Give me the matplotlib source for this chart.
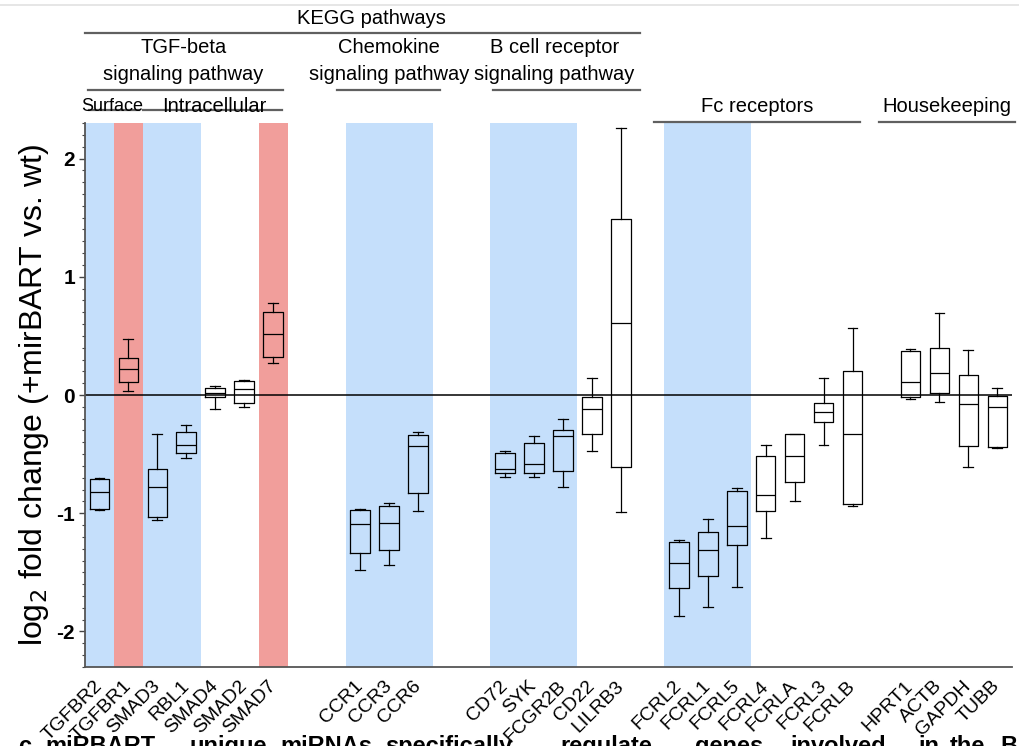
import matplotlib
matplotlib.use("Agg")
import matplotlib.pyplot as plt
import matplotlib.transforms as mtransforms
from matplotlib.lines import Line2D
from matplotlib.ticker import MultipleLocator

plt.rcParams['font.family'] = ['Liberation Sans', 'DejaVu Sans']

# genes and their slot on the x axis (gaps separate the gene groups)
genes = ["TGFBR2", "TGFBR1", "SMAD3", "RBL1", "SMAD4", "SMAD2", "SMAD7",
         "CCR1", "CCR3", "CCR6",
         "CD72", "SYK", "FCGR2B", "CD22", "LILRB3",
         "FCRL2", "FCRL1", "FCRL5", "FCRL4", "FCRLA", "FCRL3", "FCRLB",
         "HPRT1", "ACTB", "GAPDH", "TUBB"]
slots = [0, 1, 2, 3, 4, 5, 6,
         9, 10, 11,
         14, 15, 16, 17, 18,
         20, 21, 22, 23, 24, 25, 26,
         28, 29, 30, 31]

# log2 fold change summary per gene
whisker_lo = [-0.97, 0.03, -1.06, -0.53, -0.12, -0.10, 0.27,
              -1.48, -1.44, -0.98,
              -0.69, -0.69, -0.78, -0.47, -0.99,
              -1.87, -1.79, -1.62, -1.21, -0.90, -0.42, -0.94,
              -0.03, -0.06, -0.61, -0.45]
quart_1 = [-0.96, 0.11, -1.03, -0.49, -0.02, -0.07, 0.32,
           -1.34, -1.31, -0.83,
           -0.66, -0.66, -0.64, -0.33, -0.61,
           -1.63, -1.53, -1.27, -0.98, -0.74, -0.23, -0.92,
           -0.02, 0.02, -0.43, -0.44]
medians = [-0.82, 0.22, -0.78, -0.42, 0.02, 0.05, 0.52,
           -1.09, -1.08, -0.43,
           -0.63, -0.58, -0.35, -0.12, 0.61,
           -1.42, -1.31, -1.11, -0.85, -0.52, -0.14, -0.33,
           0.11, 0.19, -0.08, -0.10]
quart_3 = [-0.71, 0.31, -0.63, -0.31, 0.06, 0.12, 0.70,
           -0.97, -0.94, -0.34,
           -0.49, -0.41, -0.30, -0.02, 1.49,
           -1.24, -1.16, -0.81, -0.52, -0.33, -0.07, 0.20,
           0.37, 0.40, 0.17, -0.01]
whisker_hi = [-0.70, 0.47, -0.33, -0.25, 0.08, 0.13, 0.78,
              -0.96, -0.91, -0.31,
              -0.47, -0.35, -0.20, 0.14, 2.26,
              -1.23, -1.05, -0.79, -0.42, -0.33, 0.14, 0.57,
              0.39, 0.69, 0.38, 0.06]

# shaded columns: (first slot, last slot, colour)
BLUE = "#c5dffb"
RED = "#f19e9b"
bands = [(0, 0, BLUE), (1, 1, RED), (2, 3, BLUE), (6, 6, RED),
         (9, 11, BLUE), (14, 16, BLUE), (20, 22, BLUE)]

# header annotations: (text, x centre, y in axes fraction, size)
header_texts = [
    ("KEGG pathways", 9.4, 1.193, 14.5),
    ("TGF-beta", 2.9, 1.139, 14.5),
    ("signaling pathway", 2.9, 1.089, 14.5),
    ("Chemokine", 10.0, 1.139, 14.5),
    ("signaling pathway", 10.0, 1.089, 14.5),
    ("B cell receptor", 15.7, 1.139, 14.5),
    ("signaling pathway", 15.7, 1.089, 14.5),
    ("Surface", 0.45, 1.031, 13),
    ("Intracellular", 3.95, 1.031, 14.5),
    ("Fc receptors", 22.7, 1.031, 14.5),
    ("Housekeeping", 29.25, 1.031, 14.5),
]
# header rules: (x start, x end, y in axes fraction)
header_rules = [
    (-0.5, 18.65, 1.165),
    (-0.4, 6.35, 1.061),
    (8.2, 11.75, 1.061),
    (13.6, 18.65, 1.061),
    (-0.35, 1.35, 1.024),
    (1.5, 6.3, 1.024),
    (19.15, 26.25, 1.002),
    (26.9, 31.6, 1.002),
]

fig = plt.figure(figsize=(10.2, 7.46), dpi=100)
ax = fig.add_axes([0.0833, 0.106, 0.9087, 0.729])

for a, b, c in bands:
    ax.axvspan(a - 0.5, b + 0.5, color=c, lw=0, zorder=0)

stats = []
for g, lo, a, m, b, hi in zip(genes, whisker_lo, quart_1, medians, quart_3, whisker_hi):
    stats.append(dict(label=g, whislo=lo, q1=a, med=m, q3=b, whishi=hi, fliers=[]))

line_kw = dict(color="black", linewidth=0.9)
ax.bxp(stats, positions=slots, widths=0.68, capwidths=0.34, showfliers=False,
       boxprops=line_kw, whiskerprops=line_kw, capprops=line_kw,
       medianprops=line_kw, manage_ticks=False, zorder=3)

ax.axhline(0, color="black", lw=1.1, zorder=2)

ax.set_xlim(-0.5, 31.5)
ax.set_ylim(-2.3, 2.3)
ax.set_xticks(slots)
ax.set_xticklabels(genes, rotation=45, ha="right", va="center",
                   rotation_mode="anchor", fontsize=14)
ax.tick_params(axis="x", length=0, pad=12)
ax.set_yticks([-2, -1, 0, 1, 2])
ax.set_yticklabels(["-2", "-1", "0", "1", "2"], fontweight="bold")
ax.yaxis.set_minor_locator(MultipleLocator(0.1))
ax.tick_params(axis="y", which="major", length=4, width=1, labelsize=15, pad=3,
               color="#444444")
ax.tick_params(axis="y", which="minor", length=2.5, width=0.8, color="#444444")

for side in ("top", "right"):
    ax.spines[side].set_visible(False)
for side in ("left", "bottom"):
    ax.spines[side].set_color("#555555")
    ax.spines[side].set_linewidth(1.3)

ax.set_ylabel("log$_2$ fold change (+mirBART vs. wt)", fontsize=23, labelpad=4)

trans = mtransforms.blended_transform_factory(ax.transData, ax.transAxes)
for txt, xc, yc, fs in header_texts:
    ax.text(xc, yc, txt, transform=trans, ha="center", va="center",
            fontsize=fs, clip_on=False)
for x0, x1, yy in header_rules:
    ax.add_line(Line2D([x0, x1], [yy, yy], transform=trans, color="#606060",
                       lw=1.6, clip_on=False))

# faint rule across the top of the figure
fig.add_artist(Line2D([0, 1], [0.993, 0.993], transform=fig.transFigure,
                      color="#e2e2e2", lw=1.2))

# panel caption along the bottom edge
caption_words = [("c", 18), ("miRBART", 45), ("unique", 190), ("miRNAs", 280),
                 ("specifically", 385), ("regulate", 560), ("genes", 695),
                 ("involved", 790), ("in", 918), ("the", 950), ("B", 1000),
                 ("cell", 1025)]
for w, px in caption_words:
    fig.text(px / 1020, 1 - 735 / 746, w, ha="left", va="top",
             fontsize=17, fontweight="bold")

fig.savefig("out.png", dpi=100)
